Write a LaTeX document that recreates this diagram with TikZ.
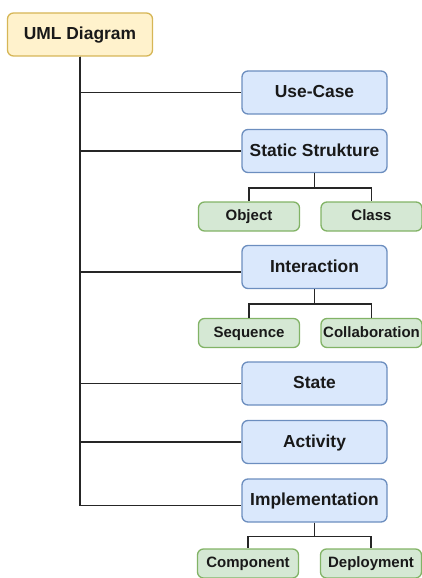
\documentclass[tikz,border=0pt]{standalone}
\usepackage{fontspec}
\setmainfont{Liberation Sans}
\usetikzlibrary{calc}
\definecolor{rootfill}{HTML}{FFF2CC}
\definecolor{rootline}{HTML}{D6B656}
\definecolor{mainfill}{HTML}{DAE8FC}
\definecolor{mainline}{HTML}{6C8EBF}
\definecolor{subfill}{HTML}{D5E8D4}
\definecolor{subline}{HTML}{82B366}
\tikzset{
  box/.style={draw, line width=1.3pt, rounded corners=6pt, inner sep=0pt, align=center,
    text height=12.6pt, text depth=2.6pt,
    font=\fontsize{17.4}{20}\selectfont\bfseries, text=black!90},
  rootbox/.style={box, fill=rootfill, draw=rootline, minimum width=145pt, minimum height=43pt},
  mainbox/.style={box, fill=mainfill, draw=mainline, minimum width=145pt, minimum height=43pt},
  subbox/.style={box, fill=subfill, draw=subline, minimum width=101pt, minimum height=29pt,
    text height=10.9pt, text depth=2.2pt,
    font=\fontsize{15}{18}\selectfont\bfseries},
  link/.style={draw=black!85, line width=1.4pt}
}
\begin{document}
\begin{tikzpicture}[x=1pt, y=-1pt]
  \useasboundingbox (0,0) rectangle (422,578);

  % root
  \node[rootbox] (uml) at (80,34.5) {UML Diagram};

  % diagram families
  \node[mainbox] (usecase) at (314.5,92.5) {Use-Case};
  \node[mainbox] (static) at (314.5,151) {Static Strukture};
  \node[mainbox] (interaction) at (314.5,267) {Interaction};
  \node[mainbox] (state) at (314.5,383.5) {State};
  \node[mainbox] (activity) at (314.5,442) {Activity};
  \node[mainbox] (impl) at (314.5,500.5) {Implementation};

  % concrete diagrams
  \node[subbox] (object) at (249,216.5) {Object};
  \node[subbox] (class) at (371.5,216.5) {Class};
  \node[subbox] (sequence) at (249,333) {Sequence};
  \node[subbox] (collab) at (371.5,333) {Collaboration};
  \node[subbox] (component) at (248,563.5) {Component};
  \node[subbox] (deploy) at (371,563.5) {Deployment};

  % trunk from the root to each family
  \draw[link] (uml.south) |- (usecase.west);
  \draw[link] (uml.south) |- (static.west);
  \draw[link] (uml.south) |- ($(interaction.west)+(0,5)$);
  \draw[link] (uml.south) |- (state.west);
  \draw[link] (uml.south) |- (activity.west);
  \draw[link] (uml.south) |- ($(impl.west)+(0,5)$);

  % branches to the concrete diagrams
  \draw[link] (static.south) -- ++(0,15) -| (object.north);
  \draw[link] (static.south) -- ++(0,15) -| (class.north);
  \draw[link] (interaction.south) -- ++(0,15) -| (sequence.north);
  \draw[link] (interaction.south) -- ++(0,15) -| (collab.north);
  \draw[link] (impl.south) -- ++(0,14) -| (component.north);
  \draw[link] (impl.south) -- ++(0,14) -| (deploy.north);
\end{tikzpicture}
\end{document}
